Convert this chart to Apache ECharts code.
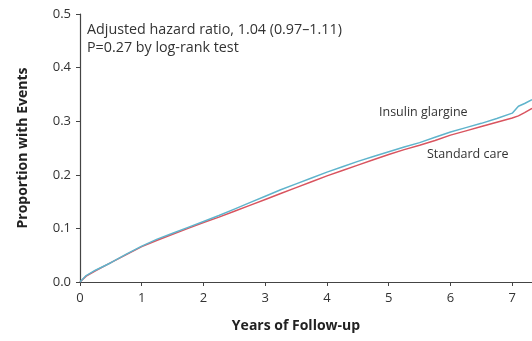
<!DOCTYPE html>
<html>
<head>
<meta charset="utf-8">
<script src="https://cdn.jsdelivr.net/npm/echarts@6/dist/echarts.min.js"></script>
<style>
  html, body { margin: 0; padding: 0; background: #fff; }
  #chart { width: 532px; height: 341px; }
</style>
</head>
<body>
<div id="chart"></div>
<script>
// years of follow-up
var years = [0, 0.1, 0.25, 0.5, 0.75, 1, 1.25, 1.5, 1.75, 2, 2.25, 2.5, 2.75, 3, 3.25, 3.5, 3.75,
  4, 4.25, 4.5, 4.75, 5, 5.25, 5.5, 5.75, 6, 6.25, 6.5, 6.75, 7, 7.1, 7.2, 7.32];

var insulinGlargine = [0, 0.012, 0.022, 0.036, 0.052, 0.067, 0.080, 0.091, 0.102, 0.113, 0.124, 0.136,
  0.148, 0.160, 0.172, 0.183, 0.194, 0.205, 0.215, 0.225, 0.234, 0.243, 0.252, 0.260, 0.270,
  0.280, 0.288, 0.296, 0.305, 0.315, 0.328, 0.333, 0.340];

var standardCare = [0, 0.011, 0.021, 0.036, 0.051, 0.066, 0.078, 0.089, 0.100, 0.111, 0.121, 0.132,
  0.143, 0.154, 0.165, 0.176, 0.187, 0.198, 0.208, 0.218, 0.228, 0.238, 0.247, 0.255, 0.264,
  0.274, 0.282, 0.290, 0.298, 0.306, 0.310, 0.316, 0.324];

function pairs(xs, ys) {
  return xs.map(function (x, i) { return [x, ys[i]]; });
}

var font = '"Open Sans", "Liberation Sans", sans-serif';

var myChart = echarts.init(document.getElementById('chart'));

var option = {
  animation: false,
  backgroundColor: '#fff',
  textStyle: { fontFamily: font },
  grid: { left: 80, right: 0, top: 14, bottom: 59 },
  xAxis: {
    type: 'value',
    min: 0,
    max: 7.32,
    interval: 1,
    name: 'Years of Follow-up',
    nameLocation: 'middle',
    nameGap: 37,
    nameTextStyle: { fontSize: 14, fontWeight: 'bold', color: '#222', fontFamily: font, padding: [0, 20, 0, 0] },
    axisLine: { lineStyle: { color: '#444', width: 1.2 } },
    axisTick: { show: true, length: 4, lineStyle: { color: '#444' } },
    axisLabel: { fontSize: 13, color: '#333', margin: 10, showMaxLabel: false },
    splitLine: { show: false }
  },
  yAxis: {
    type: 'value',
    min: 0,
    max: 0.5,
    interval: 0.1,
    name: 'Proportion with Events',
    nameLocation: 'middle',
    nameGap: 50,
    nameTextStyle: { fontSize: 14, fontWeight: 'bold', color: '#222', fontFamily: font },
    axisLine: { show: true, lineStyle: { color: '#444', width: 1.2 } },
    axisTick: { show: true, length: 4, lineStyle: { color: '#444' } },
    axisLabel: {
      fontSize: 13, color: '#333', margin: 9,
      formatter: function (v) { return v.toFixed(1); }
    },
    splitLine: { show: false }
  },
  graphic: [
    {
      type: 'text', left: 87, top: 21,
      style: {
        text: 'Adjusted hazard ratio, 1.04 (0.97\u20131.11)\nP=0.27 by log-rank test',
        font: '14.3px ' + font, fill: '#333', lineHeight: 18
      }
    },
    {
      type: 'text', left: 379, top: 106,
      style: { text: 'Insulin glargine', font: '12.5px ' + font, fill: '#333' }
    },
    {
      type: 'text', left: 427, top: 148,
      style: { text: 'Standard care', font: '12.5px ' + font, fill: '#333' }
    }
  ],
  series: [
    {
      name: 'Standard care',
      type: 'line',
      data: pairs(years, standardCare),
      showSymbol: false,
      lineStyle: { color: '#d9545f', width: 1.5 },
      itemStyle: { color: '#d9545f' }
    },
    {
      name: 'Insulin glargine',
      type: 'line',
      data: pairs(years, insulinGlargine),
      showSymbol: false,
      lineStyle: { color: '#5fb4cc', width: 1.5 },
      itemStyle: { color: '#5fb4cc' }
    }
  ]
};

myChart.setOption(option);
</script>
</body>
</html>
